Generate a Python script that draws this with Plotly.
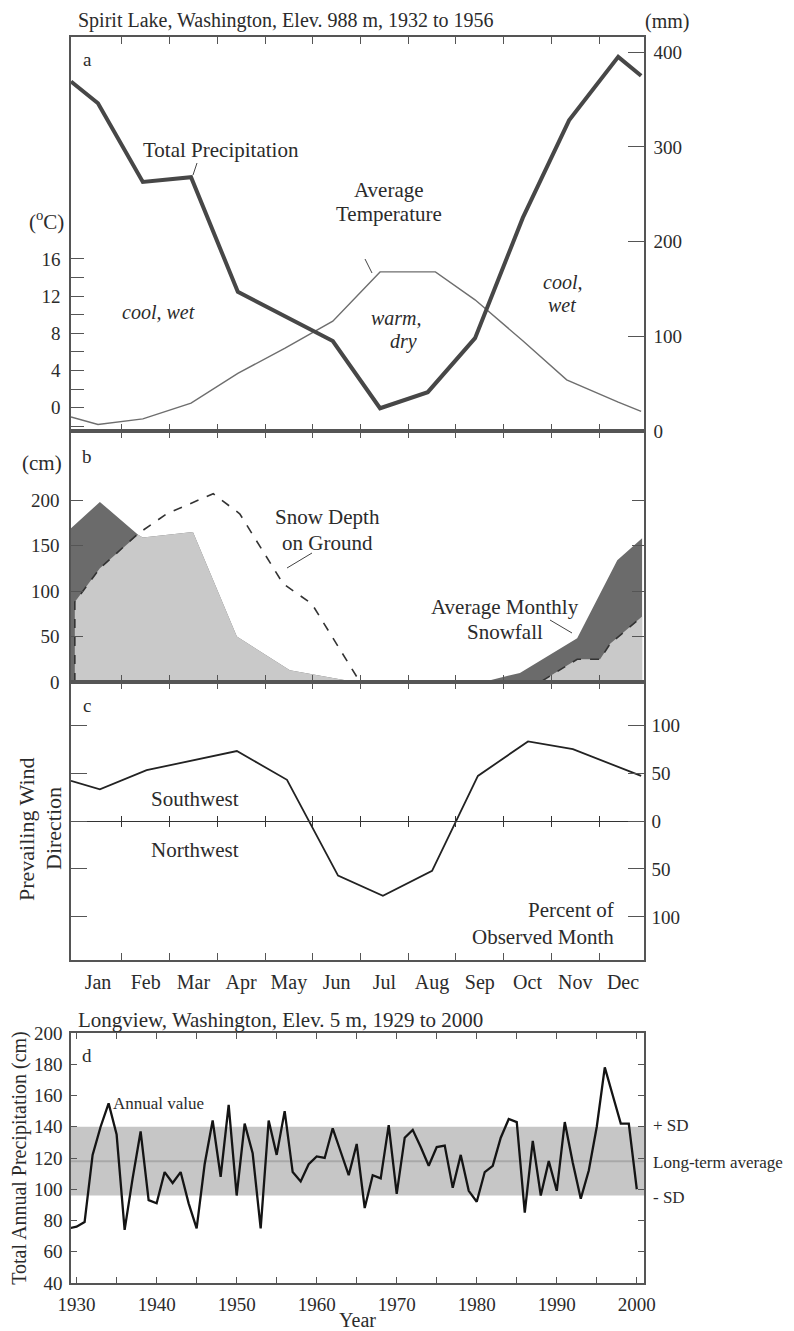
import plotly.graph_objects as go

# page body has an 8 px margin, so the figure is 8 px smaller on each axis
OFF = 8
W, H = 794 - OFF, 1331 - OFF
SERIF = "Liberation Serif, Times New Roman, serif"
INK = "#2b2b2b"
AXC = "#555555"


def fx(p):
    return (p - OFF) / W


def fy(p):
    return 1 - (p - OFF) / H


# ---------------- data ----------------
months = ["Jan", "Feb", "Mar", "Apr", "May", "Jun", "Jul", "Aug", "Sep", "Oct", "Nov", "Dec"]
month_edges = list(range(1, 12))
month_mid = [m + 0.5 for m in range(12)]
month_range = [-0.065, 11.94]

# (a) Spirit Lake monthly climate
precip_pos = [-0.065, 0.50, 1.44, 2.45, 3.43, 4.42, 5.42, 6.41, 7.41, 8.40, 9.40, 10.37, 11.40, 11.88]
precip_mm = [369, 346, 263, 268, 147, 121, 95, 24, 41, 98, 225, 328, 395, 375]
temp_pos = [-0.065, 0.50, 1.44, 2.45, 3.43, 4.42, 5.42, 6.41, 7.57, 8.40, 9.40, 10.32, 11.40, 11.88]
temp_c = [-1.0, -1.8, -1.2, 0.5, 3.7, 6.4, 9.3, 14.6, 14.6, 11.6, 7.2, 3.0, 0.6, -0.4]

# (b) snow
snowfall_pos = [-0.065, 0.54, 1.34, 1.44, 2.49, 3.41, 4.52, 5.42, 5.89, 8.57, 9.34, 10.54, 11.38, 11.90]
snowfall_cm = [169, 198, 162, 159, 165, 50, 13, 4, 0, 0, 10, 48, 134, 158]
overlap_pos = [0.015, 0.54, 1.34, 1.44, 2.49, 3.41, 4.52, 5.42, 5.89, 9.77, 10.54, 11.02, 11.23, 11.90]
overlap_cm = [88, 125, 162, 159, 165, 50, 13, 4, 0, 0, 25, 25, 42, 72]
depth_pos = [0.015, 0.015, 0.54, 1.34, 1.94, 2.50, 2.915, 3.47, 4.38, 4.98, 5.99, 9.77, 10.54, 11.02, 11.23, 11.90]
depth_cm = [0, 88, 125, 163, 185, 198, 207, 185, 108, 86, 0, 0, 25, 25, 42, 72]

# (c) prevailing wind (+ southwest, - northwest), percent of observed month
wind_pos = [-0.065, 0.54, 1.52, 2.47, 3.41, 4.46, 5.53, 6.47, 7.50, 8.46, 9.51, 10.45, 11.88]
wind_pct = [42, 33, 53, 63, 73, 43, -57, -78, -52, 47, 83, 75, 47]

# (d) Longview annual precipitation
years = list(range(1929, 2001))
annual_cm = [75, 76, 79, 122, 140, 155, 135, 74, 107, 137,
             93, 91, 111, 104, 111, 91, 75, 116, 144, 108,
             154, 96, 142, 123, 75, 144, 122, 150, 111, 105,
             116, 121, 120, 139, 124, 109, 129, 88, 109, 107,
             141, 97, 133, 138, 127, 115, 127, 128, 101, 122,
             99, 92, 111, 115, 133, 145, 143, 85, 131, 96,
             118, 99, 143, 117, 94, 112, 140, 178, 160, 142,
             142, 100]
longterm_avg = 118
sd = 22

# ---------------- figure ----------------
fig = go.Figure()

fig.add_trace(go.Scatter(x=temp_pos, y=temp_c, xaxis="x", yaxis="y", mode="lines",
                         line=dict(color="#6e6e6e", width=1.4), showlegend=False))
fig.add_trace(go.Scatter(x=precip_pos, y=precip_mm, xaxis="x", yaxis="y2", mode="lines",
                         line=dict(color="#474747", width=4), showlegend=False))

fig.add_trace(go.Scatter(x=snowfall_pos, y=snowfall_cm, xaxis="x2", yaxis="y3", mode="lines",
                         fill="tozeroy", fillcolor="#6b6b6b", line=dict(width=0, color="#6b6b6b"),
                         showlegend=False))
fig.add_trace(go.Scatter(x=overlap_pos, y=overlap_cm, xaxis="x2", yaxis="y3", mode="lines",
                         fill="tozeroy", fillcolor="#c9c9c9", line=dict(width=0, color="#c9c9c9"),
                         showlegend=False))
fig.add_trace(go.Scatter(x=depth_pos, y=depth_cm, xaxis="x2", yaxis="y3", mode="lines",
                         line=dict(color="#333333", width=1.6, dash="dash"), showlegend=False))

fig.add_trace(go.Scatter(x=wind_pos, y=wind_pct, xaxis="x3", yaxis="y4", mode="lines",
                         line=dict(color="#222222", width=1.8), showlegend=False))
for xa in ["x4", "x5", "x6"]:
    fig.add_trace(go.Scatter(x=[None], y=[None], xaxis=xa, yaxis="y4", mode="lines",
                             showlegend=False, hoverinfo="skip"))

fig.add_trace(go.Scatter(x=years, y=annual_cm, xaxis="x7", yaxis="y5", mode="lines",
                         line=dict(color="#141414", width=2.3), showlegend=False))

tickfont = dict(family=SERIF, size=19, color=INK)
common = dict(showline=True, linecolor=AXC, linewidth=1.5, showgrid=False, zeroline=False,
              tickcolor=AXC, tickwidth=1.3, tickfont=tickfont, automargin=False)

xdom = [fx(71), fx(644)]
dom_a = [fy(431), fy(37)]
dom_b = [fy(682), fy(431)]
dom_c = [fy(960), fy(682)]
dom_d = [fy(1283), fy(1033)]
zero_c = (dom_c[0] + dom_c[1]) / 2

month_axis = dict(common, domain=xdom, range=month_range, tickmode="array", tickvals=month_edges,
                  ticks="inside", ticklen=7, mirror="ticks", showticklabels=False)

fig.update_layout(
    template="none",
    width=W, height=H,
    margin=dict(l=0, r=0, t=0, b=0),
    paper_bgcolor="white", plot_bgcolor="rgba(0,0,0,0)",
    showlegend=False,
    font=dict(family=SERIF, color=INK),
    xaxis=dict(month_axis, anchor="y"),
    yaxis=dict(common, domain=dom_a, anchor="x", range=[-2.505, 39.86], tickmode="array",
               tickvals=[0, 4, 8, 12, 16], ticks="inside", ticklen=13, ticklabelstandoff=5,
               minor=dict(tickmode="array", tickvals=[-2, 2, 6, 10, 14], ticks="inside", ticklen=13,
                          tickcolor=AXC, tickwidth=1.3)),
    yaxis2=dict(common, overlaying="y", side="right", anchor="x", range=[0, 416], tickmode="array",
                tickvals=[0, 100, 200, 300, 400], ticks="inside", ticklen=16, ticklabelstandoff=4),
    xaxis2=dict(month_axis, anchor="y3"),
    yaxis3=dict(common, domain=dom_b, anchor="x2", range=[0, 276], tickmode="array",
                tickvals=[0, 50, 100, 150, 200], ticks="inside", ticklen=12, mirror="ticks",
                ticklabelstandoff=6),
    xaxis3=dict(month_axis, anchor="y4"),
    yaxis4=dict(common, domain=dom_c, anchor="x3", side="right", range=[-145, 145], tickmode="array",
                tickvals=[-100, -50, 0, 50, 100], ticktext=["100", "50", "0", "50", "100"],
                ticks="inside", ticklen=16, mirror="ticks", ticklabelstandoff=2),
    xaxis4=dict(domain=xdom, overlaying="x3", anchor="y4", range=month_range, tickmode="array",
                tickvals=month_mid, ticktext=months, ticks="", showline=False, showgrid=False,
                zeroline=False, tickfont=dict(family=SERIF, size=20, color=INK),
                ticklabelstandoff=8, automargin=False),
    xaxis5=dict(domain=xdom, overlaying="x3", anchor="free", position=zero_c, side="bottom",
                range=month_range, tickmode="array", tickvals=month_edges, ticks="outside",
                ticklen=5, tickcolor="#333333", tickwidth=1.3, showline=True, linecolor="#333333",
                linewidth=1.4, showticklabels=False, showgrid=False, zeroline=False, automargin=False),
    xaxis6=dict(domain=xdom, overlaying="x3", anchor="free", position=zero_c, side="top",
                range=month_range, tickmode="array", tickvals=month_edges, ticks="outside",
                ticklen=5, tickcolor="#333333", tickwidth=1.3, showline=True, linecolor="#333333",
                linewidth=1.4, showticklabels=False, showgrid=False, zeroline=False, automargin=False),
    xaxis7=dict(common, domain=xdom, anchor="y5", range=[1929.3, 2000.9], tickmode="array",
                tickvals=list(range(1930, 2001, 5)),
                ticktext=[str(y) if y % 10 == 0 else "" for y in range(1930, 2001, 5)],
                ticks="inside", ticklen=6, mirror="ticks", ticklabelstandoff=3,
                title=dict(text="Year", font=dict(family=SERIF, size=20, color=INK), standoff=3)),
    yaxis5=dict(common, domain=dom_d, anchor="x7", range=[40, 200], tickmode="array",
                tickvals=list(range(40, 201, 20)), ticks="inside", ticklen=6, mirror="ticks",
                ticklabelstandoff=3,
                title=dict(text="Total Annual Precipitation (cm)",
                           font=dict(family=SERIF, size=20, color=INK), standoff=4)),
)

# band and long-term average (panel d)
fig.add_shape(type="rect", xref="x7 domain", yref="y5", x0=0, x1=1,
              y0=longterm_avg - sd, y1=longterm_avg + sd,
              fillcolor="#c6c6c6", line=dict(width=0), layer="below")
fig.add_shape(type="line", xref="x7 domain", yref="y5", x0=0, x1=1,
              y0=longterm_avg, y1=longterm_avg,
              line=dict(color="#a8a8a8", width=2), layer="below")


def note(text, x, y, size=21, xanchor="center", yanchor="middle", italic=False, angle=0,
         yref="paper", yval=None):
    fig.add_annotation(text=text, x=fx(x), y=fy(y) if yval is None else yval,
                       xref="paper", yref=yref, showarrow=False, xanchor=xanchor,
                       yanchor=yanchor, textangle=angle, borderpad=0,
                       font=dict(family=SERIF, size=size, color=INK,
                                 style="italic" if italic else "normal"))


def leader(x0, y0, x1, y1):
    # thin label leader line, in page pixels
    fig.add_shape(type="line", xref="paper", yref="paper",
                  x0=fx(x0), y0=fy(y0), x1=fx(x1), y1=fy(y1),
                  line=dict(color="#444444", width=1))


note("Spirit Lake, Washington, Elev. 988 m, 1932 to 1956", 77, 8, size=20, xanchor="left",
     yanchor="top")
note("(mm)", 667, 9, size=20, yanchor="top")
note("a", 87, 60, size=19)
note("Total Precipitation", 221, 150)
leader(197, 163, 193, 175)
note("Average", 389, 190)
note("Temperature", 389, 214)
leader(365, 259, 372, 273)
note("(<sup>o</sup>C)", 46, 220)
note("cool, wet", 158, 312, size=20, italic=True)
note("warm,", 396, 318, size=20, italic=True)
note("dry", 404, 341, size=20, italic=True)
note("cool,", 562, 282, size=20, italic=True)
note("wet", 562, 305, size=20, italic=True)

note("b", 87, 457, size=19)
note("(cm)", 42, 463)
note("Snow Depth", 327, 517)
note("on Ground", 327, 543)
leader(312, 553, 287, 568)
note("Average Monthly", 505, 607)
note("Snowfall", 505, 632)
leader(550, 620, 572, 633)

note("c", 87, 705, size=19)
note("Southwest", 195, 799)
note("Northwest", 195, 850)
note("Prevailing Wind", 26, 829, size=22, angle=-90)
note("Direction", 53, 829, size=22, angle=-90)
note("Percent of", 615, 910, xanchor="right")
note("Observed Month", 615, 937, xanchor="right")

note("Longview, Washington, Elev. 5 m, 1929 to 2000", 77, 1020, size=21, xanchor="left")
note("d", 87, 1055, size=19)
note("Annual value", 112, 1103, size=17, xanchor="left")
note("+ SD", 652, 0, size=17, xanchor="left", yref="y5", yval=longterm_avg + sd + 1)
note("Long-term average", 652, 0, size=17, xanchor="left", yref="y5", yval=longterm_avg - 1)
note("- SD", 652, 0, size=17, xanchor="left", yref="y5", yval=longterm_avg - sd - 1)

fig.write_html("out.html")
